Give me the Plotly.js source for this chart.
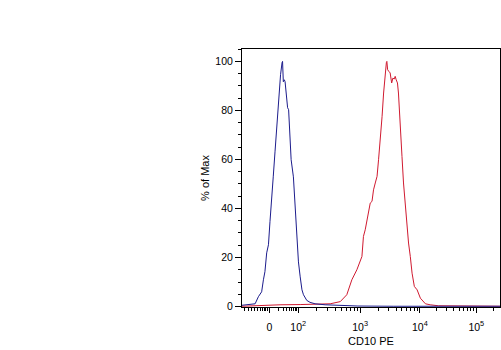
<!DOCTYPE html>
<html>
<head>
<meta charset="utf-8">
<script src="https://cdn.plot.ly/plotly-3.0.1.min.js"></script>
<style>
html,body{margin:0;padding:0;background:#fff;}
#chart{width:501px;height:350px;}
</style>
</head>
<body>
<div id="chart"></div>
<script>
// X values are display channels of the biexponential CD10 PE scale (0..1024)
const blueX = [0, 32, 52, 65, 78, 85, 91, 98, 105, 111, 117, 124, 131, 138, 143, 148, 153, 159, 161, 164, 168, 171, 178, 181, 185, 188, 195, 204, 211, 217, 224, 231, 238, 244, 257, 270, 290, 330, 390, 460, 600, 800, 1024];
const blueY = [0.5, 0.7, 1.1, 4.0, 6.0, 10.9, 14.2, 21.9, 25.2, 34.6, 41.5, 52.9, 63.1, 73.3, 82.3, 89.7, 94.6, 99.5, 100, 91.7, 92.5, 91.7, 84.4, 81.1, 80.3, 73.0, 59.9, 52.9, 39.5, 30.1, 18.2, 12.1, 6.8, 4.8, 2.5, 1.7, 1.1, 0.7, 0.5, 0.2, 0.1, 0.1, 0.1];

const redX = [0, 91, 151, 231, 310, 350, 390, 416, 436, 456, 476, 482, 489, 496, 502, 509, 516, 522, 529, 536, 542, 549, 556, 562, 569, 573, 575, 578, 583, 588, 594, 599, 604, 608, 612, 617, 621, 628, 635, 641, 648, 655, 661, 668, 675, 684, 695, 708, 728, 747, 779, 1024];
const redY = [0.1, 0.5, 0.7, 0.8, 0.9, 1.1, 2.0, 4.8, 10.9, 15.0, 20.4, 28.6, 31.3, 35.4, 39.5, 42.2, 42.9, 47.6, 50.4, 53.1, 59.9, 68.0, 77.6, 87.1, 96.6, 99.5, 100, 96.6, 95.9, 95.3, 91.2, 93.2, 92.8, 93.9, 92.5, 91.2, 87.1, 70.8, 61.2, 50.4, 40.8, 32.7, 25.9, 20.4, 13.6, 8.2, 6.8, 3.4, 1.1, 0.7, 0.3, 0.1];

// axis ticks (display channels)
const tickChannels = [109, 223, 469, 706, 930];
const tickLabels = ['0', '10<sup>2</sup>', '10<sup>3</sup>', '10<sup>4</sup>', '10<sup>5</sup>'];
const negativeMinorChannels = [11, 24, 37, 50, 61, 72, 80, 88, 95, 103];
const nextDecadeChannel = 1154;

const minorVals = negativeMinorChannels.slice();
const zeroSpan = tickChannels[1] - tickChannels[0];
for (let k = 2; k <= 9; k++) minorVals.push(tickChannels[1] - zeroSpan * (1 - Math.log10(k)));
const anchors = tickChannels.slice(1).concat([nextDecadeChannel]);
for (let i = 0; i < anchors.length - 1; i++) {
  for (let k = 2; k <= 9; k++) minorVals.push(anchors[i] + (anchors[i+1] - anchors[i]) * Math.log10(k));
}

const font = {family: 'Liberation Sans, Arial, sans-serif', size: 10.5, color: '#000'};

const traces = [
  {x: redX, y: redY, type: 'scatter', mode: 'lines', line: {color: '#d01a30', width: 1}, hoverinfo: 'skip'},
  {x: blueX, y: blueY, type: 'scatter', mode: 'lines', line: {color: '#1c1c8c', width: 1}, hoverinfo: 'skip'}
];

const layout = {
  width: 501, height: 350,
  margin: {l: 242, r: 1, t: 49, b: 43},
  paper_bgcolor: '#fff', plot_bgcolor: '#fff',
  showlegend: false,
  font: font,
  xaxis: {
    range: [0, 1024], showgrid: false, zeroline: false,
    showline: true, linecolor: '#000', linewidth: 1, mirror: true,
    tickmode: 'array', tickvals: tickChannels, ticktext: tickLabels,
    ticks: 'outside', ticklen: 5, tickcolor: '#000', tickwidth: 1,
    ticklabelstandoff: 5,
    minor: {tickmode: 'array', tickvals: minorVals, ticks: 'outside', ticklen: 3, tickcolor: '#000', tickwidth: 1, showgrid: false},
    tickfont: font,
    title: {text: 'CD10 PE', font: {family: 'Liberation Sans, Arial, sans-serif', size: 11, color: '#000'}, standoff: 5}
  },
  yaxis: {
    range: [-0.2, 105.06], showgrid: false, zeroline: false,
    showline: true, linecolor: '#000', linewidth: 1, mirror: true,
    tickmode: 'linear', tick0: 0, dtick: 20,
    ticks: 'outside', ticklen: 6, tickcolor: '#000', tickwidth: 1,
    minor: {dtick: 5, ticks: 'outside', ticklen: 3, tickcolor: '#000', tickwidth: 1, showgrid: false},
    tickfont: font,
    title: {text: '% of Max', font: {family: 'Liberation Sans, Arial, sans-serif', size: 11, color: '#000'}, standoff: 3}
  }
};

Plotly.newPlot('chart', traces, layout, {staticPlot: true, displayModeBar: false});
</script>
</body>
</html>
